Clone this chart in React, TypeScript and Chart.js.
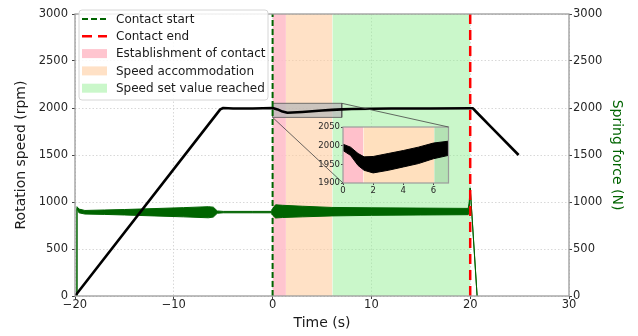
import React, { useEffect, useRef } from 'react';
import { Chart, registerables } from 'chart.js';
Chart.register(...registerables);

const W = 638;
const H = 336;
const FONT = "'DejaVu Sans', 'Liberation Sans', sans-serif";

// ---- main axes ----
const xTicks = [-20, -10, 0, 10, 20, 30];
const yTicks = [0, 500, 1000, 1500, 2000, 2500, 3000];

// ---- rotation speed (rpm), left axis ----
const speedT = [-20, -5.3, -5, -4, -2, 0, 0.5, 1, 1.5, 2, 3, 4, 5, 6, 7, 8, 12, 16, 20, 20.25, 20.6, 22.1, 24.9];
const speedRpm = [0, 1985, 2000, 1995, 1995, 2000, 1985, 1962, 1950, 1952, 1958, 1965, 1973, 1980, 1985, 1990, 1995, 1995, 1998, 1998, 1960, 1800, 1500];

// ---- spring force (N), right axis: upper / lower envelope of the signal ----
const forceT = [-19.85, -19.8, -19.6, -19, -17, -15, -12, -9, -6.5, -6, -5.6, -5, -2, -0.1, 0, 0.3, 1, 3, 6, 10, 15, 19.8, 19.9, 20.0, 20.7];
const forceUpper = [0, 950, 925, 910, 915, 920, 930, 940, 950, 945, 905, 900, 900, 900, 930, 970, 965, 955, 942, 938, 935, 932, 1000, 1150, 0];
const forceLower = [0, 930, 885, 872, 868, 862, 852, 842, 832, 840, 880, 885, 885, 885, 860, 830, 835, 842, 852, 858, 862, 865, 900, 1150, 0];

// ---- events and phases ----
const contactStart = 0;
const contactEnd = 20;
const phaseNames = ['Establishment of contact', 'Speed accommodation', 'Speed set value reached'];
const phaseStart = [0, 1.35, 6.05];
const phaseEnd = [1.35, 6.05, 20];

// ---- zoom window ----
const zoomX = [0, 7];
const zoomY = [1900, 2050];

// ---- inset: rotation speed envelope (rpm) ----
const insetT = [0, 0.5, 1, 1.4, 2, 3, 4, 5, 6, 7];
const insetUpper = [2004, 1996, 1979, 1970, 1971, 1979, 1987, 1996, 2007, 2012];
const insetLower = [1987, 1974, 1947, 1934, 1927, 1934, 1943, 1952, 1965, 1974];
const insetXTicks = [0, 2, 4, 6];
const insetYTicks = [1900, 1950, 2000, 2050];

// ---- styles ----
const DARK_GREEN = '#006400';
const phaseColors = ['rgba(255,192,203,0.92)', 'rgba(255,205,160,0.6)', 'rgba(144,238,144,0.48)'];
const insetPhaseColors = ['rgb(255,192,203)', 'rgb(255,224,190)', 'rgb(180,226,180)'];
const TICK_COLOR = '#262626';
const SPINE = '#9c9c9c';

const pts = (xs: number[], ys: number[]) => xs.map((x, i) => ({ x, y: ys[i] }));
const minus = (v: number) => (v < 0 ? '\u2212' + Math.abs(v) : String(v));

export default function App() {
  const mainRef = useRef<HTMLCanvasElement>(null);
  const insetRef = useRef<HTMLCanvasElement>(null);

  useEffect(() => {
    const gridCommon = {
      color: 'rgba(200,200,200,0.9)',
      lineWidth: 0.8,
      tickColor: '#444',
      tickLength: 3,
      tickWidth: 1,
      tickBorderDash: [],
    };
    const tickFont = { family: FONT, size: 11.5 };

    const mainDatasets: any[] = [];
    phaseNames.forEach((name, i) => {
      mainDatasets.push({
        label: name,
        legendKind: 'box',
        data: pts([phaseStart[i], phaseEnd[i]], [3000, 3000]),
        yAxisID: 'y',
        backgroundColor: phaseColors[i],
        borderWidth: 0,
        pointRadius: 0,
        fill: 'origin',
        order: 10,
      });
    });
    mainDatasets.push({
      label: 'zoom',
      data: pts([zoomX[0], zoomX[0], zoomX[1], zoomX[1], zoomX[0]], [zoomY[0], zoomY[1], zoomY[1], zoomY[0], zoomY[0]]),
      yAxisID: 'y',
      backgroundColor: 'rgba(185,185,185,0.75)',
      borderColor: '#555',
      borderWidth: 0.8,
      pointRadius: 0,
      fill: 'shape',
      order: 8,
    });
    const lowerIndex = mainDatasets.length;
    mainDatasets.push({
      label: 'force lower',
      data: pts(forceT, forceLower),
      yAxisID: 'y2',
      borderColor: DARK_GREEN,
      borderWidth: 1,
      pointRadius: 0,
      fill: false,
      order: 6,
    });
    mainDatasets.push({
      label: 'force upper',
      data: pts(forceT, forceUpper),
      yAxisID: 'y2',
      borderColor: DARK_GREEN,
      backgroundColor: DARK_GREEN,
      borderWidth: 1,
      pointRadius: 0,
      fill: lowerIndex,
      order: 5,
    });
    mainDatasets.push({
      label: 'speed',
      data: pts(speedT, speedRpm),
      yAxisID: 'y',
      borderColor: '#000',
      borderWidth: 2.6,
      borderJoinStyle: 'round',
      pointRadius: 0,
      fill: false,
      order: 3,
    });
    mainDatasets.push({
      label: 'Contact start',
      legendKind: 'line',
      data: pts([contactStart, contactStart], [0, 3000]),
      yAxisID: 'y',
      borderColor: DARK_GREEN,
      borderWidth: 2,
      borderDash: [6, 3],
      pointRadius: 0,
      fill: false,
      order: 1,
    });
    mainDatasets.push({
      label: 'Contact end',
      legendKind: 'line',
      data: pts([contactEnd, contactEnd], [0, 3000]),
      yAxisID: 'y',
      borderColor: '#ff0000',
      borderWidth: 2.5,
      borderDash: [10, 6],
      pointRadius: 0,
      fill: false,
      order: 1,
    });

    const frameLegend = {
      id: 'frameLegend',
      afterDatasetsDraw(chart: any) {
        const { ctx, chartArea: a } = chart;
        ctx.save();
        ctx.strokeStyle = SPINE;
        ctx.lineWidth = 1.3;
        ctx.strokeRect(a.left, a.top, a.right - a.left, a.bottom - a.top);
        ctx.restore();
      },
      afterDraw(chart: any) {
        const { ctx } = chart;
        const items = chart.data.datasets.filter((d: any) => d.legendKind);
        const ordered = [
          ...items.filter((d: any) => d.legendKind === 'line'),
          ...items.filter((d: any) => d.legendKind === 'box'),
        ];
        const bx = 79, by = 10, bw = 189, bh = 90;
        ctx.save();
        ctx.beginPath();
        if (ctx.roundRect) ctx.roundRect(bx, by, bw, bh, 3);
        else ctx.rect(bx, by, bw, bh);
        ctx.fillStyle = 'rgba(255,255,255,0.85)';
        ctx.fill();
        ctx.strokeStyle = '#d6d6d6';
        ctx.lineWidth = 1;
        ctx.stroke();
        ordered.forEach((d: any, i: number) => {
          const cy = 19 + i * 17.3;
          if (d.legendKind === 'line') {
            ctx.beginPath();
            ctx.setLineDash(d.borderDash || []);
            ctx.strokeStyle = d.borderColor;
            ctx.lineWidth = d.borderWidth;
            ctx.moveTo(82, cy);
            ctx.lineTo(107, cy);
            ctx.stroke();
            ctx.setLineDash([]);
          } else {
            ctx.fillStyle = d.backgroundColor;
            ctx.fillRect(82, cy - 4.5, 25, 9);
          }
          ctx.fillStyle = '#1a1a1a';
          ctx.font = `12px ${FONT}`;
          ctx.textBaseline = 'middle';
          ctx.textAlign = 'left';
          ctx.fillText(d.label, 116, cy + 0.5);
        });
        ctx.restore();
      },
    };

    const main = new Chart(mainRef.current!, {
      type: 'line',
      data: { datasets: mainDatasets },
      options: {
        responsive: false,
        animation: false,
        events: [],
        layout: { padding: { top: 14, left: 0, right: 0, bottom: 0 } },
        plugins: { legend: { display: false }, tooltip: { enabled: false } },
        scales: {
          x: {
            type: 'linear',
            position: 'bottom',
            min: -20,
            max: 30,
            afterBuildTicks: (s: any) => { s.ticks = xTicks.map((v) => ({ value: v })); },
            afterFit: (s: any) => { s.height = 40; },
            ticks: { font: tickFont, color: TICK_COLOR, padding: -1, maxRotation: 0, autoSkip: false, callback: (v: any) => minus(Number(v)) },
            grid: gridCommon,
            border: { display: false, dash: [1.5, 2] },
            title: { display: true, text: 'Time (s)', font: { family: FONT, size: 14 }, color: '#1a1a1a', padding: { top: 0, bottom: 4.6 } },
          },
          y: {
            type: 'linear',
            position: 'left',
            min: 0,
            max: 3000,
            afterBuildTicks: (s: any) => { s.ticks = yTicks.map((v) => ({ value: v })); },
            afterFit: (s: any) => { s.width = 75; },
            ticks: { font: tickFont, color: TICK_COLOR, padding: 4, callback: (v: any) => String(v) },
            grid: gridCommon,
            border: { display: false, dash: [1.5, 2] },
            title: { display: true, text: 'Rotation speed (rpm)', font: { family: FONT, size: 14 }, color: '#1a1a1a', padding: { top: 12.6, bottom: 0 } },
          },
          y2: {
            type: 'linear',
            position: 'right',
            min: 0,
            max: 3000,
            afterBuildTicks: (s: any) => { s.ticks = yTicks.map((v) => ({ value: v })); },
            afterFit: (s: any) => { s.width = 69; },
            ticks: { font: tickFont, color: TICK_COLOR, padding: 1, callback: (v: any) => String(v) },
            grid: { ...gridCommon, drawOnChartArea: false },
            border: { display: false },
            title: { display: true, text: 'Spring force (N)', font: { family: FONT, size: 14 }, color: DARK_GREEN, padding: { top: 12.6, bottom: 0 } },
          },
        },
      } as any,
      plugins: [frameLegend],
    } as any);

    const insetDatasets: any[] = [];
    phaseNames.forEach((name, i) => {
      const s = Math.max(phaseStart[i], zoomX[0]);
      const e = Math.min(phaseEnd[i], zoomX[1]);
      if (e > s) {
        insetDatasets.push({
          label: name,
          data: pts([s, e], [zoomY[1], zoomY[1]]),
          backgroundColor: insetPhaseColors[i],
          borderWidth: 0,
          pointRadius: 0,
          fill: 'start',
          order: 10,
        });
      }
    });
    const insetLowerIndex = insetDatasets.length;
    insetDatasets.push({
      label: 'speed lower',
      data: pts(insetT, insetLower),
      borderColor: '#000',
      borderWidth: 1,
      pointRadius: 0,
      fill: false,
      order: 5,
    });
    insetDatasets.push({
      label: 'speed upper',
      data: pts(insetT, insetUpper),
      borderColor: '#000',
      backgroundColor: '#000',
      borderWidth: 1,
      pointRadius: 0,
      fill: insetLowerIndex,
      order: 4,
    });

    const insetPlugin = {
      id: 'insetFrame',
      beforeDraw(chart: any) {
        const { ctx, chartArea: a } = chart;
        ctx.save();
        ctx.fillStyle = '#fff';
        ctx.fillRect(a.left, a.top, a.right - a.left, a.bottom - a.top);
        ctx.restore();
      },
      afterDatasetsDraw(chart: any) {
        const { ctx, chartArea: a } = chart;
        ctx.save();
        ctx.strokeStyle = SPINE;
        ctx.lineWidth = 1.2;
        ctx.strokeRect(a.left, a.top, a.right - a.left, a.bottom - a.top);
        ctx.restore();
      },
      afterDraw(chart: any) {
        const { ctx } = chart;
        const mx = main.scales.x;
        const my = main.scales.y;
        const ix = chart.scales.x;
        const iy = chart.scales.y;
        ctx.save();
        ctx.strokeStyle = '#444';
        ctx.lineWidth = 0.8;
        ctx.beginPath();
        ctx.moveTo(mx.getPixelForValue(zoomX[0]), my.getPixelForValue(zoomY[0]));
        ctx.lineTo(ix.getPixelForValue(zoomX[0]), iy.getPixelForValue(zoomY[0]));
        ctx.moveTo(mx.getPixelForValue(zoomX[1]), my.getPixelForValue(zoomY[1]));
        ctx.lineTo(ix.getPixelForValue(zoomX[1]), iy.getPixelForValue(zoomY[1]));
        ctx.stroke();
        ctx.restore();
      },
    };

    const insetFont = { family: FONT, size: 8.5 };
    const inset = new Chart(insetRef.current!, {
      type: 'line',
      data: { datasets: insetDatasets },
      options: {
        responsive: false,
        animation: false,
        events: [],
        layout: { padding: { top: 127, left: 313, right: 189.5, bottom: 138 } },
        plugins: { legend: { display: false }, tooltip: { enabled: false } },
        scales: {
          x: {
            type: 'linear',
            min: zoomX[0],
            max: zoomX[1],
            afterBuildTicks: (s: any) => { s.ticks = insetXTicks.map((v) => ({ value: v })); },
            afterFit: (s: any) => { s.height = 15; },
            ticks: { font: insetFont, color: TICK_COLOR, padding: 1, maxRotation: 0, autoSkip: false, callback: (v: any) => String(v) },
            grid: { drawOnChartArea: false, tickLength: 2, tickColor: '#444' },
            border: { display: false },
          },
          y: {
            type: 'linear',
            min: zoomY[0],
            max: zoomY[1],
            afterBuildTicks: (s: any) => { s.ticks = insetYTicks.map((v) => ({ value: v })); },
            afterFit: (s: any) => { s.width = 30; },
            ticks: { font: insetFont, color: TICK_COLOR, padding: 1, callback: (v: any) => String(v) },
            grid: { drawOnChartArea: false, tickLength: 2, tickColor: '#444' },
            border: { display: false },
          },
        },
      } as any,
      plugins: [insetPlugin],
    } as any);

    return () => {
      inset.destroy();
      main.destroy();
    };
  }, []);

  return (
    <div style={{ position: 'fixed', left: 0, top: 0, width: W, height: H, background: '#fff' }}>
      <canvas ref={mainRef} width={W} height={H} style={{ position: 'absolute', left: 0, top: 0 }} />
      <canvas ref={insetRef} width={W} height={H} style={{ position: 'absolute', left: 0, top: 0 }} />
    </div>
  );
}
